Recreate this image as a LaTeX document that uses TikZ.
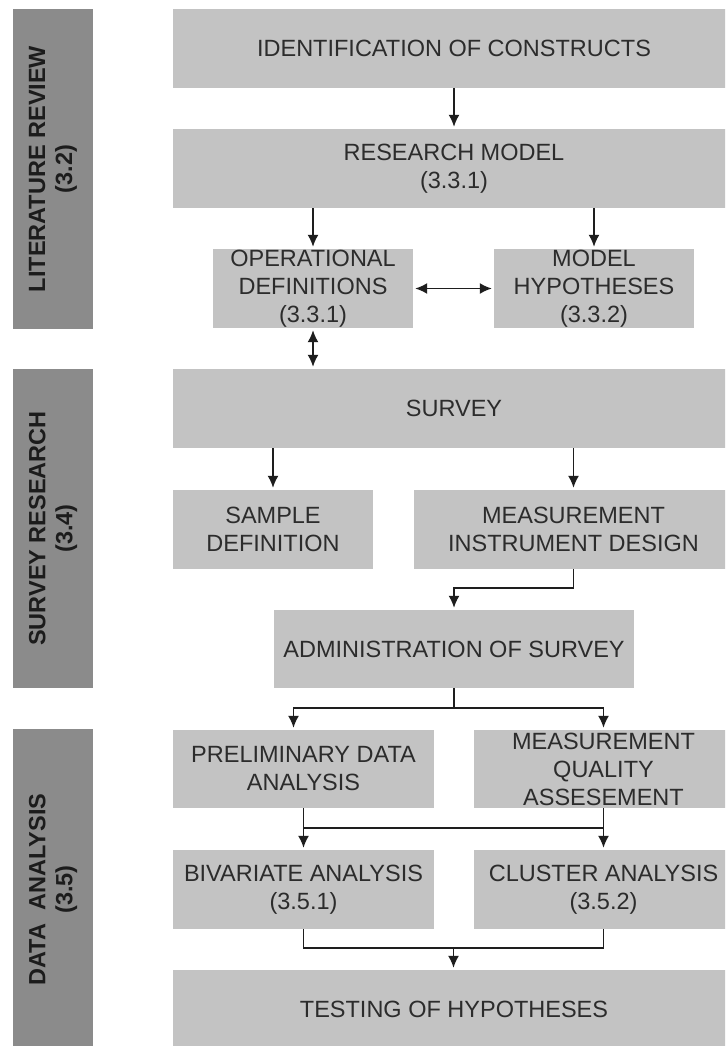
\documentclass[tikz,border=0pt]{standalone}
\usepackage{fontspec}
\setmainfont{Liberation Sans}
\usetikzlibrary{arrows.meta,calc}
\definecolor{boxgray}{HTML}{C3C3C3}
\definecolor{bargray}{HTML}{8B8B8B}
\definecolor{txtgray}{HTML}{2C2C2C}
\definecolor{bartxt}{HTML}{1C1C1C}
\definecolor{linegray}{HTML}{1E1E1E}

\begin{document}
\begin{tikzpicture}[x=1pt,y=-1pt,
  stagebox/.style={fill=boxgray, draw=none, inner sep=0pt, align=center,
    text=txtgray, font=\fontsize{23.5}{28}\selectfont},
  phasebar/.style={fill=bargray, draw=none, inner sep=0pt, align=center,
    text=bartxt, rotate=90, font=\bfseries\fontsize{23.5}{27}\selectfont},
  link/.style={draw=linegray, line width=1.6pt},
  flow/.style={link, -{Latex[length=12pt,width=11pt]}, shorten >=2pt},
  twoway/.style={link, {Latex[length=12pt,width=11pt]}-{Latex[length=12pt,width=11pt]},
    shorten >=2pt, shorten <=2pt}]

\clip (0,0) rectangle (725,1046);
\fill[white] (0,0) rectangle (725,1046);

% phase bars on the left
\node[phasebar, minimum width=320pt, minimum height=80pt] (litrev) at (53,169)
  {LITERATURE REVIEW\\(3.2)};
\node[phasebar, minimum width=319pt, minimum height=80pt] (survres) at (53,528.5)
  {SURVEY RESEARCH\\(3.4)};
\node[phasebar, minimum width=321pt, minimum height=80pt] (dataan) at (53,889.5)
  {DATA\ \ ANALYSIS\\(3.5)};

% process steps
\node[stagebox, minimum width=562pt, minimum height=79pt] (ident) at (454,48.5)
  {IDENTIFICATION OF CONSTRUCTS};
\node[stagebox, minimum width=562pt, minimum height=79pt] (model) at (454,168.5)
  {RESEARCH MODEL\\(3.3.1)};
\node[stagebox, minimum width=200pt, minimum height=79pt] (opdef) at (313,288.5)
  {OPERATIONAL\\DEFINITIONS\\(3.3.1)};
\node[stagebox, minimum width=200pt, minimum height=79pt] (hyp) at (594,288.5)
  {MODEL\\HYPOTHESES\\(3.3.2)};
\node[stagebox, minimum width=562pt, minimum height=79pt] (survey) at (454,408.5)
  {SURVEY};
\node[stagebox, minimum width=200pt, minimum height=79pt] (sample) at (273,529.5)
  {SAMPLE\\DEFINITION};
\node[stagebox, minimum width=319pt, minimum height=79pt] (instr) at (573.5,529.5)
  {MEASUREMENT\\INSTRUMENT DESIGN};
\node[stagebox, minimum width=360pt, minimum height=78pt] (admin) at (454,649)
  {ADMINISTRATION OF SURVEY};
\node[stagebox, minimum width=261pt, minimum height=78pt] (prelim) at (303.5,769)
  {PRELIMINARY DATA\\ANALYSIS};
\node[stagebox, minimum width=259pt, minimum height=78pt] (quality) at (603.5,769)
  {MEASUREMENT\\QUALITY\\ASSESEMENT};
\node[stagebox, minimum width=261pt, minimum height=79pt] (bivar) at (303.5,889.5)
  {BIVARIATE ANALYSIS\\(3.5.1)};
\node[stagebox, minimum width=259pt, minimum height=79pt] (cluster) at (603.5,889.5)
  {CLUSTER ANALYSIS\\(3.5.2)};
\node[stagebox, minimum width=562pt, minimum height=79pt] (testing) at (454,1009.5)
  {TESTING OF HYPOTHESES};

% connectors
\draw[flow] (ident) -- (model);
\draw[flow] (model.south -| opdef.north) -- (opdef.north);
\draw[flow] (model.south -| hyp.north) -- (hyp.north);
\draw[twoway] (opdef) -- (hyp);
\draw[twoway] (opdef.south) -- (survey.north -| opdef.south);
\draw[flow] (survey.south -| sample.north) -- (sample.north);
\draw[flow] (survey.south -| instr.north) -- (instr.north);
\draw[flow] (instr.south) -- ++(0,19) -| (admin.north);
\draw[flow] (admin.south) -- ++(0,20) -| ([xshift=-10pt]prelim.north);
\draw[flow] (admin.south) -- ++(0,20) -| (quality.north);
\draw[link] (prelim.south) -- ++(0,20) -| (quality.south);
\draw[flow] (prelim) -- (bivar);
\draw[flow] (quality) -- (cluster);
\draw[link] (bivar.south) -- ++(0,19) -| (cluster.south);
\coordinate (merge) at ($(bivar.south)!0.5!(cluster.south)+(0,19)$);
\draw[flow] (merge) -- (testing.north -| merge);
\end{tikzpicture}
\end{document}
